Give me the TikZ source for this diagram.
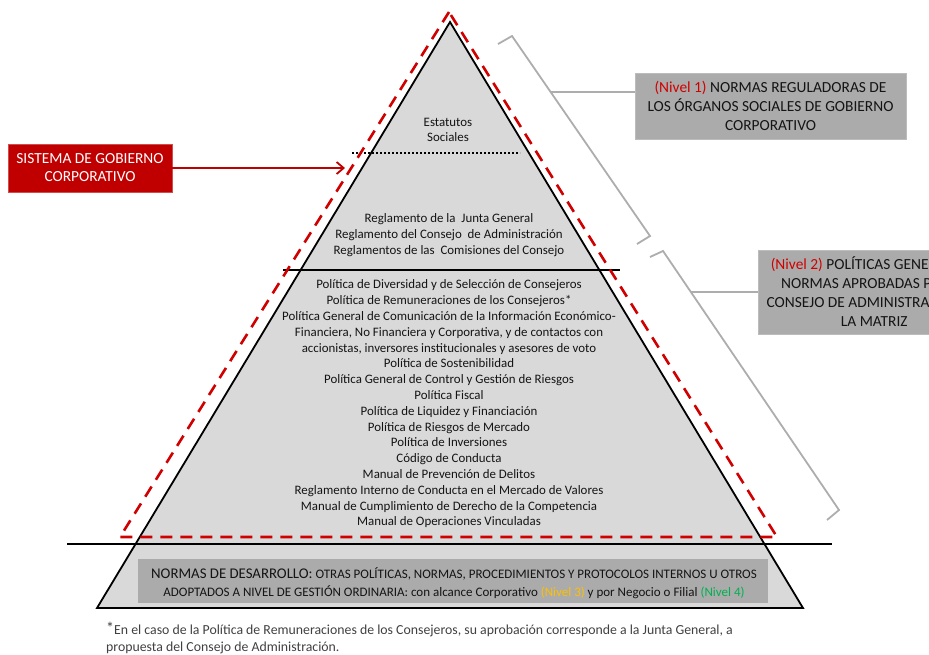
\documentclass[tikz,border=0pt]{standalone}
\usepackage{fontspec}
\setmainfont{Carlito}
\usetikzlibrary{arrows.meta}
\definecolor{pyrfill}{HTML}{D9D9D9}
\definecolor{boxgray}{HTML}{ABABAB}
\definecolor{brgray}{HTML}{ADADAD}
\definecolor{redbox}{HTML}{C00000}
\definecolor{reddash}{HTML}{D00000}
\definecolor{txt}{HTML}{141414}
\definecolor{nivred}{HTML}{D00000}
\definecolor{nivyel}{HTML}{FFC000}
\definecolor{nivgrn}{HTML}{00B050}
\tikzset{
  pyrtext/.style={align=center, text=txt, font=\fontsize{12.9}{15.8}\selectfont, inner sep=0pt},
  levelbox/.style={fill=boxgray, draw=boxgray!80!white, line width=0.6pt, align=center, text=txt, font=\fontsize{15.4}{19}\selectfont, inner sep=0pt},
  bracket/.style={draw=brgray, line width=1.8pt, line join=miter},
  blackline/.style={draw=black, line width=1.8pt},
}
\begin{document}
\begin{tikzpicture}[x=1pt,y=-1pt]
\useasboundingbox (0,0) rectangle (929,654);
\clip (0,0) rectangle (929,654);
% pyramid
\coordinate (apex) at (450,22);
\coordinate (bl) at (97,608);
\coordinate (br) at (803,608);
\fill[pyrfill] (apex) -- (bl) -- (br) -- cycle;
% bottom gray box
\node[fill=boxgray, minimum width=630, minimum height=44, inner sep=0pt] (devbox) at (453,581) {};
\node[align=center, text=txt, inner sep=0pt, font=\fontsize{13}{18}\selectfont] (devtext) at (454,583) {%
  {\fontsize{14.8}{18}\selectfont NORMAS DE DESARROLLO:} OTRAS POLÍTICAS, NORMAS, PROCEDIMIENTOS Y PROTOCOLOS INTERNOS U OTROS\\
  ADOPTADOS A NIVEL DE GESTIÓN ORDINARIA: con alcance Corporativo \textcolor{nivyel}{(Nivel 3)} y por Negocio o Filial \textcolor{nivgrn}{(Nivel 4)}};
\draw[blackline, line join=miter] (apex) -- (bl) -- (br) -- cycle;
% horizontal lines
\coordinate (h1a) at (283,270); \coordinate (h1b) at (620,270);
\coordinate (h2a) at (67,544); \coordinate (h2b) at (832,544);
\draw[blackline] (h1a) -- (h1b);
\draw[blackline] (h2a) -- (h2b);
\coordinate (d1a) at (352,153); \coordinate (d1b) at (520,153);
\draw[black, line width=2pt, dash pattern=on 2pt off 2pt] (d1a) -- (d1b);
% red dashed triangle
\coordinate (rapex) at (449,12);
\coordinate (rbl) at (120,537);
\coordinate (rbr) at (777,537);
\draw[reddash, line width=2.6pt, dash pattern=on 12pt off 8pt] (rapex) -- (rbl) -- (rbr) -- cycle;
% pyramid texts
\node[pyrtext] (estatutos) at (448,130) {Estatutos\\Sociales};
\node[pyrtext] (reglamentos) at (449,235) {Reglamento de la \ Junta General\\Reglamento del Consejo \ de Administración\\Reglamentos de las \ Comisiones del Consejo};
\node[pyrtext] (politicas) at (449,404) {Política de Diversidad y de Selección de Consejeros\\
Política de Remuneraciones de los Consejeros*\\
Política General de Comunicación de la Información Económico-\\
Financiera, No Financiera y Corporativa, y de contactos con\\
accionistas, inversores institucionales y asesores de voto\\
Política de Sostenibilidad\\
Política General de Control y Gestión de Riesgos\\
Política Fiscal\\
Política de Liquidez y Financiación\\
Política de Riesgos de Mercado\\
Política de Inversiones\\
Código de Conducta\\
Manual de Prevención de Delitos\\
Reglamento Interno de Conducta en el Mercado de Valores\\
Manual de Cumplimiento de Derecho de la Competencia\\
Manual de Operaciones Vinculadas};
% sistema box
\node[fill=redbox, draw=redbox!70!white, line width=0.6pt, minimum width=164, minimum height=48, inner sep=0pt, align=center, text=white, font=\fontsize{15.4}{18}\selectfont] (sistema) at (90,168) {SISTEMA DE GOBIERNO\\CORPORATIVO};
\coordinate (arrend) at (345,168);
\draw[redbox, line width=1.8pt, -{Straight Barb[length=7pt,width=12pt]}] (sistema.east) -- (arrend);
% level 1
\node[levelbox, minimum width=271, minimum height=66] (nivel1) at (770.5,106) {\textcolor{nivred}{(Nivel 1)} NORMAS REGULADORAS DE\\LOS ÓRGANOS SOCIALES DE GOBIERNO\\CORPORATIVO};
\coordinate (b1a) at (498,44); \coordinate (b1b) at (512,36);
\coordinate (b1c) at (650,236); \coordinate (b1d) at (637,244);
\draw[bracket] (b1a) -- (b1b) -- (b1c) -- (b1d);
\coordinate (b1m) at (551,92);
\draw[bracket] (b1m) -- (nivel1.west |- b1m);
% level 2
\node[levelbox, minimum width=232, minimum height=84, anchor=west] (nivel2) at (758,292) {\textcolor{nivred}{(Nivel 2)} POLÍTICAS GENERALES Y\\NORMAS APROBADAS POR EL\\CONSEJO DE ADMINISTRACIÓN DE\\LA MATRIZ};
\coordinate (b2a) at (650,257); \coordinate (b2b) at (663,251);
\coordinate (b2c) at (839,510); \coordinate (b2d) at (827,520);
\draw[bracket] (b2a) -- (b2b) -- (b2c) -- (b2d);
\coordinate (b2m) at (691,292);
\draw[bracket] (b2m) -- (nivel2.west);
% footnote
\node[anchor=north west, align=left, text=black!75, font=\fontsize{13.8}{16.5}\selectfont, inner sep=0pt] (foot) at (106,622) {\raisebox{1pt}{\fontsize{16}{16}\selectfont *}En el caso de la Política de Remuneraciones de los Consejeros, su aprobación corresponde a la Junta General, a\\propuesta del Consejo de Administración.};
\end{tikzpicture}
\end{document}
